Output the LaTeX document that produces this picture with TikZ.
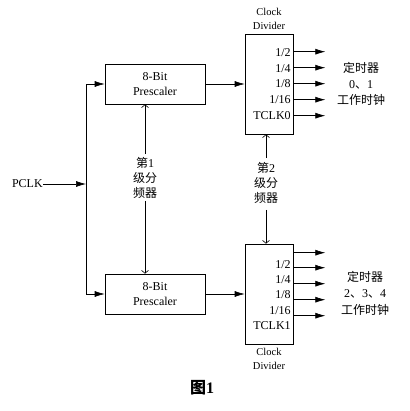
\documentclass[tikz,border=0pt]{standalone}
\usepackage{fontspec}
\setmainfont{Liberation Serif}
\newfontfamily\cjk{Noto Sans CJK SC}
\usetikzlibrary{arrows.meta}

\begin{document}
\begin{tikzpicture}[x=1pt, y=-1pt, line width=0.6pt,
    texto/.style={font=\fontsize{12}{15}\selectfont, align=center, inner sep=0pt},
    caja/.style={texto, draw, minimum width=100pt, minimum height=40pt},
    divisor/.style={draw, minimum width=48pt, minimum height=100pt, inner sep=0pt},
    flecha/.style={-{Latex[length=10pt,width=6pt]}},
    fina/.style={-{Straight Barb[length=3pt,width=7pt]}}]
    \useasboundingbox (0,0) rectangle (409,411);
    % Entrada
    \node[texto, anchor=east] (pclk) at (43,184) {PCLK};
    \coordinate (bus) at (86,184);
    % Preescaladores
    \node[caja] (pre1) at (155,84) {8-Bit\\Prescaler};
    \node[caja] (pre2) at (155,294) {8-Bit\\Prescaler};
    % Divisores de reloj
    \node[divisor] (div1) at (269,84) {};
    \node[divisor] (div2) at (269,294) {};
    \node[texto, font=\fontsize{10.5}{14}\selectfont] (cd1) at (269,19) {Clock\\Divider};
    \node[texto, font=\fontsize{10.5}{14}\selectfont] (cd2) at (269,359) {Clock\\Divider};
    \node[texto, align=right, anchor=east, font=\fontsize{12}{15.75}\selectfont] (sal1) at (291,84) {1/2\\1/4\\1/8\\1/16\\TCLK0};
    \node[texto, align=right, anchor=east, font=\fontsize{12}{15.25}\selectfont] (sal2) at (291,295) {1/2\\1/4\\1/8\\1/16\\TCLK1};
    % Etiquetas de los niveles
    \node[texto] (lv1) at (145,178) {{\cjk 第}1\\{\cjk 级分}\\{\cjk 频器}};
    \node[texto] (lv2) at (266,183) {{\cjk 第}2\\{\cjk 级分}\\{\cjk 频器}};
    % Temporizadores
    \node[texto, font=\fontsize{12}{16}\selectfont] (tmr1) at (361,84) {{\cjk 定时器}\\0{\cjk 、}1\\{\cjk 工作时钟}};
    \node[texto, font=\fontsize{12}{16.5}\selectfont] (tmr2) at (365,293) {{\cjk 定时器}\\2{\cjk 、}3{\cjk 、}4\\{\cjk 工作时钟}};
    % Titulo
    \node[font=\fontsize{16}{18}\selectfont\bfseries, inner sep=0pt] (fig) at (202,388) {{\cjk 图}1};
    % Conexiones
    \draw[flecha] (pclk.east) -- (bus);
    \draw[flecha] (bus) |- (pre1.west);
    \draw[flecha] (bus) |- (pre2.west);
    \draw[flecha] (pre1) -- (div1);
    \draw[flecha] (pre2) -- (div2);
    \draw[fina] ([yshift=3pt]lv1.north) -- (lv1.north |- pre1.south);
    \draw[fina] ([yshift=-2pt]lv1.south) -- (lv1.south |- pre2.north);
    \draw[fina] ([yshift=4pt]lv2.north) -- (lv2.north |- div1.south);
    \draw[fina] ([yshift=-6pt]lv2.south) -- (lv2.south |- div2.north);
    % Salidas
    \foreach \d in {18,34,50,66,82}
        \draw[flecha] ([yshift=-\d pt]div1.north east) -- ++(32,0);
    \foreach \d in {9,24,40,56,72}
        \draw[flecha] ([yshift=-\d pt]div2.north east) -- ++(32,0);
\end{tikzpicture}
\end{document}
